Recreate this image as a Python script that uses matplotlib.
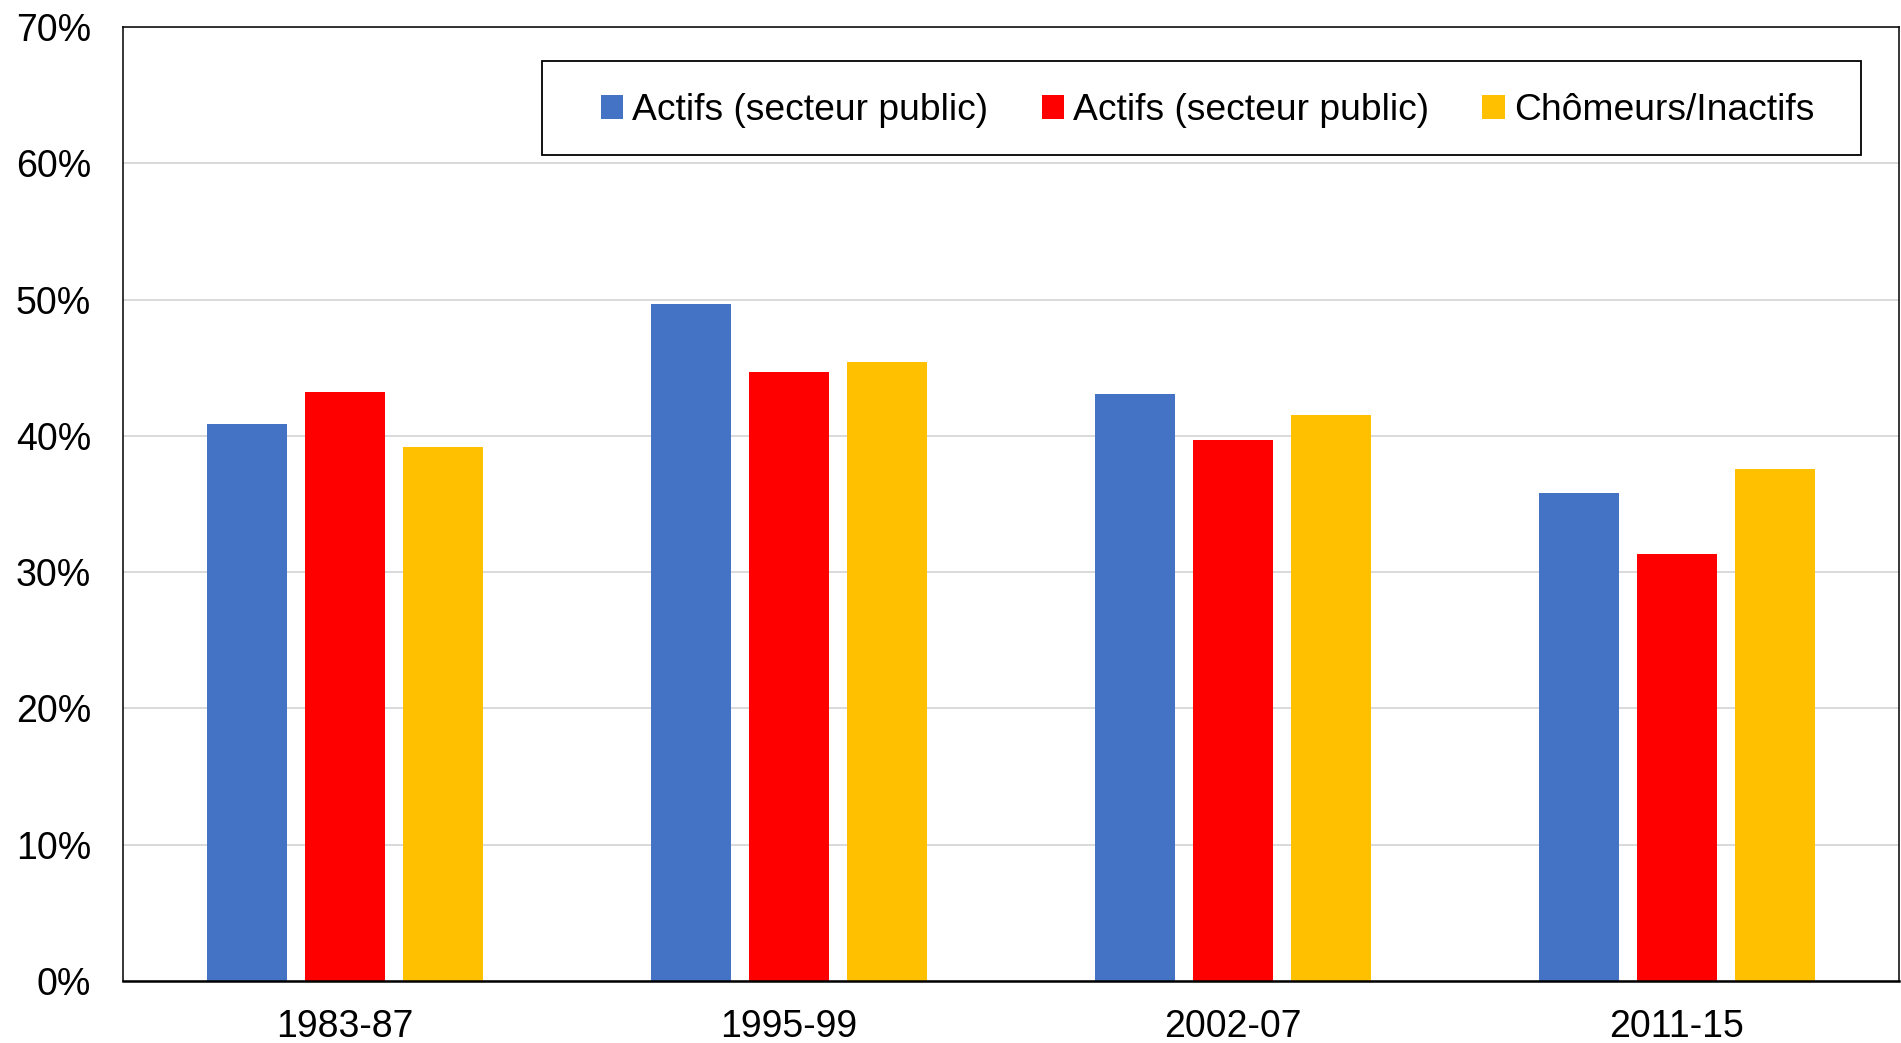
import matplotlib
matplotlib.use("Agg")
import matplotlib.pyplot as plt
from matplotlib.patches import Rectangle
import numpy as np

categories = ["1983-87", "1995-99", "2002-07", "2011-15"]
series_labels = ["Actifs (secteur public)", "Actifs (secteur public)", "Chômeurs/Inactifs"]
actifs_1 = [40.9, 49.7, 43.1, 35.8]
actifs_2 = [43.2, 44.7, 39.7, 31.3]
chomeurs = [39.2, 45.4, 41.5, 37.6]
y_ticks = [0, 10, 20, 30, 40, 50, 60, 70]
y_tick_labels = ["0%", "10%", "20%", "30%", "40%", "50%", "60%", "70%"]

colors = ["#4472C4", "#FF0000", "#FFC000"]

plt.rcParams['font.family'] = ['Liberation Sans', 'DejaVu Sans']

fig = plt.figure(figsize=(19.01, 10.43), dpi=100)
ax = fig.add_axes([123/1901, 62/1043, (1899-123)/1901, (981-27)/1043])

x = np.arange(len(categories))
width = 0.18
step = 0.221
handles = []
for i, (vals, lab, col) in enumerate(zip([actifs_1, actifs_2, chomeurs], series_labels, colors)):
    h = ax.bar(x + (i - 1) * step, vals, width=width, color=col, label=lab, zorder=3)
    handles.append(h)

ax.set_xlim(-0.5, len(categories) - 0.5)
ax.set_ylim(0, 70)
ax.set_yticks(y_ticks)
ax.set_yticklabels(y_tick_labels)
ax.set_xticks(x)
ax.set_xticklabels(categories)
ax.tick_params(axis='both', length=0, labelsize=27)
ax.tick_params(axis='y', pad=23)
ax.tick_params(axis='x', pad=20)
ax.yaxis.grid(True, color="#d9d9d9", linewidth=1.4, zorder=0)
ax.set_axisbelow(True)
for s in ["left", "top", "right"]:
    ax.spines[s].set_color("black")
    ax.spines[s].set_linewidth(1.1)
ax.spines["bottom"].set_color("black")
ax.spines["bottom"].set_linewidth(1.8)
ax.spines["bottom"].set_zorder(5)

x0 = (542-123)/1776
x1 = (1861-123)/1776
y1 = (981-61)/954
y0 = (981-155)/954
rect = Rectangle((x0, y0), x1 - x0, y1 - y0, transform=ax.transAxes,
                 facecolor="white", edgecolor="black", linewidth=1.3, zorder=6)
ax.add_patch(rect)

leg = ax.legend(handles=handles, labels=series_labels, ncol=3, loc="center",
                bbox_to_anchor=((x0 + x1) / 2 + 0.0034, (y0 + y1) / 2 - 0.003), bbox_transform=ax.transAxes,
                frameon=False, fontsize=26.8, handlelength=0.6, handleheight=0.6,
                handletextpad=0.25, columnspacing=1.43, borderpad=0)
leg.set_zorder(7)

fig.savefig("out.png", dpi=100)
